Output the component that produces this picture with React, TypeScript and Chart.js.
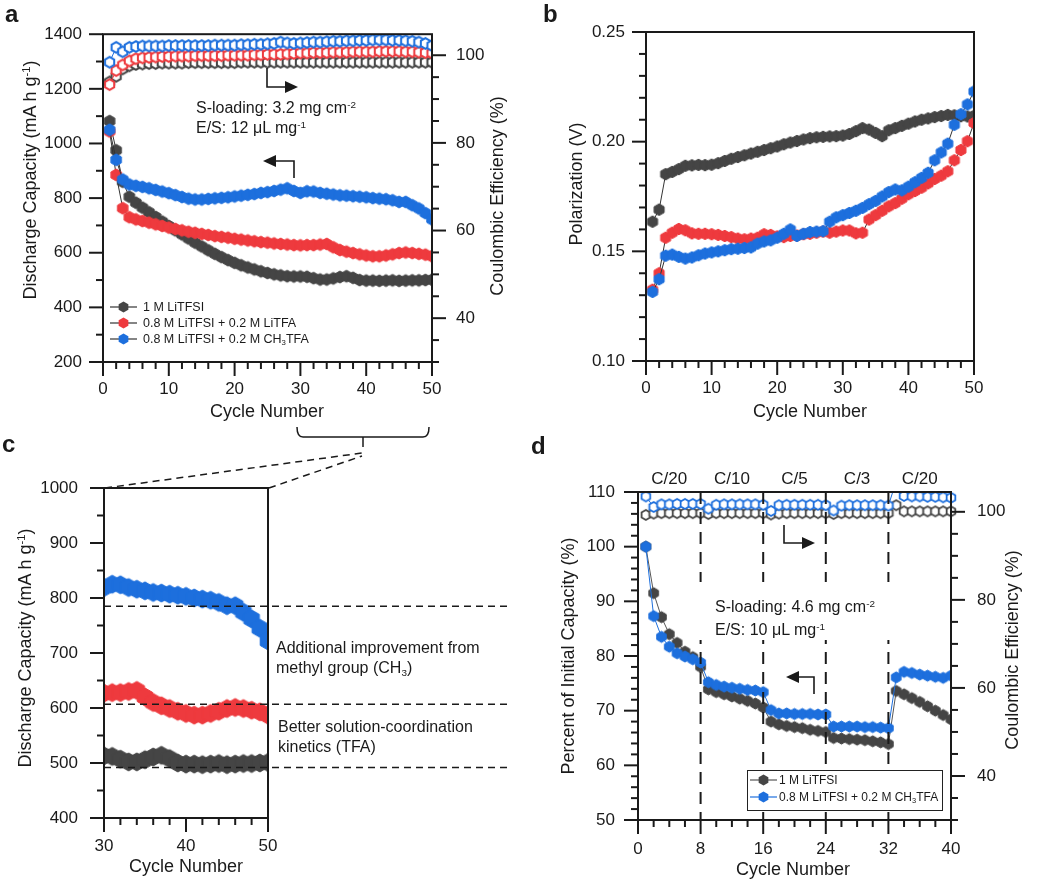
import React, { useEffect, useRef, useState } from 'react';
import { Chart, registerables } from 'chart.js';
Chart.register(...registerables);

const FONT = '"Liberation Sans", Arial, Helvetica, sans-serif';
const INK = '#1a1a1a';
const GRAY = '#454545';
const RED = '#EE3A3E';
const BLUE = '#1D6FDD';

// ---------- data ----------
const CYCLES_50 = [1, 2, 3, 4, 5, 6, 7, 8, 9, 10, 11, 12, 13, 14, 15, 16, 17, 18, 19, 20, 21, 22, 23, 24, 25, 26, 27, 28, 29, 30, 31, 32, 33, 34, 35, 36, 37, 38, 39, 40, 41, 42, 43, 44, 45, 46, 47, 48, 49, 50];
const CYCLES_40 = [1, 2, 3, 4, 5, 6, 7, 8, 9, 10, 11, 12, 13, 14, 15, 16, 17, 18, 19, 20, 21, 22, 23, 24, 25, 26, 27, 28, 29, 30, 31, 32, 33, 34, 35, 36, 37, 38, 39, 40];

// panel a / c : discharge capacity (mA h g-1)
const CAP_LITFSI = [1082, 975, 860, 805, 783, 765, 748, 731, 714, 698, 682, 667, 652, 637, 623, 609, 596, 584, 573, 563, 554, 546, 539, 532, 526, 521, 517, 514, 513, 513, 512, 507, 502, 502, 506, 511, 514, 508, 500, 498, 498, 497, 498, 499, 497, 498, 499, 499, 500, 501];
const CAP_LITFA = [1044, 885, 763, 730, 722, 716, 710, 704, 698, 692, 687, 682, 677, 673, 669, 665, 661, 658, 655, 651, 648, 645, 642, 639, 637, 634, 632, 630, 628, 627, 628, 628, 630, 632, 620, 610, 604, 599, 594, 590, 587, 587, 590, 594, 599, 601, 599, 596, 593, 587];
const CAP_CH3TFA = [1050, 940, 868, 850, 845, 841, 836, 830, 824, 818, 811, 804, 798, 795, 795, 797, 799, 801, 803, 806, 809, 812, 815, 819, 822, 826, 831, 836, 826, 819, 825, 824, 819, 816, 813, 810, 809, 807, 805, 803, 800, 798, 796, 792, 786, 786, 774, 762, 745, 722];
// panel a : coulombic efficiency (%)
const CE_LITFSI = [93.9, 95.2, 96.9, 97.6, 97.9, 98.0, 98.1, 98.1, 98.2, 98.2, 98.2, 98.2, 98.3, 98.3, 98.3, 98.3, 98.3, 98.3, 98.3, 98.3, 98.4, 98.4, 98.4, 98.4, 98.4, 98.4, 98.4, 98.4, 98.4, 98.4, 98.4, 98.4, 98.4, 98.4, 98.4, 98.4, 98.4, 98.4, 98.4, 98.4, 98.4, 98.4, 98.4, 98.4, 98.4, 98.4, 98.4, 98.4, 98.4, 98.4];
const CE_LITFA = [93.3, 96.5, 97.8, 98.7, 99.2, 99.4, 99.5, 99.6, 99.7, 99.7, 99.8, 99.8, 99.8, 99.9, 99.9, 99.9, 99.9, 99.9, 100.0, 100.0, 100.0, 100.0, 100.1, 100.1, 100.2, 100.2, 100.2, 100.3, 100.4, 100.5, 100.5, 100.6, 100.6, 100.6, 100.7, 100.7, 100.7, 100.8, 100.8, 100.8, 100.8, 100.9, 100.9, 100.9, 100.9, 100.8, 100.8, 100.7, 100.6, 100.5];
const CE_CH3TFA = [98.4, 101.8, 100.8, 101.8, 102.0, 102.1, 102.1, 102.1, 102.1, 102.2, 102.2, 102.2, 102.2, 102.2, 102.2, 102.2, 102.3, 102.3, 102.3, 102.3, 102.4, 102.4, 102.5, 102.5, 102.6, 102.7, 103.0, 102.8, 102.7, 102.8, 102.9, 103.0, 103.0, 103.1, 103.2, 103.2, 103.3, 103.3, 103.4, 103.4, 103.5, 103.5, 103.5, 103.4, 103.4, 103.3, 103.2, 103.0, 102.7, 102.2];

// panel b : polarization (V)
const POL_LITFSI = [0.1635, 0.1690, 0.1852, 0.1862, 0.1875, 0.1890, 0.1892, 0.1894, 0.1893, 0.1895, 0.1902, 0.1912, 0.1922, 0.1930, 0.1938, 0.1946, 0.1954, 0.1962, 0.1970, 0.1978, 0.1988, 0.1996, 0.2003, 0.2010, 0.2016, 0.2020, 0.2022, 0.2024, 0.2025, 0.2028, 0.2035, 0.2048, 0.2062, 0.2055, 0.2040, 0.2025, 0.2052, 0.2062, 0.2072, 0.2082, 0.2092, 0.2100, 0.2106, 0.2112, 0.2117, 0.2122, 0.2120, 0.2116, 0.2115, 0.2118];
const POL_LITFA = [0.1325, 0.1400, 0.1562, 0.1585, 0.1602, 0.1596, 0.1582, 0.1580, 0.1580, 0.1578, 0.1575, 0.1570, 0.1565, 0.1558, 0.1555, 0.1558, 0.1562, 0.1578, 0.1575, 0.1568, 0.1565, 0.1570, 0.1572, 0.1578, 0.1580, 0.1585, 0.1590, 0.1585, 0.1590, 0.1595, 0.1595, 0.1582, 0.1585, 0.1645, 0.1665, 0.1685, 0.1705, 0.1720, 0.1740, 0.1760, 0.1775, 0.1790, 0.1810, 0.1830, 0.1845, 0.1865, 0.1915, 0.1962, 0.2002, 0.2085];
const POL_CH3TFA = [0.1315, 0.1373, 0.1480, 0.1485, 0.1475, 0.1467, 0.1472, 0.1482, 0.1490, 0.1495, 0.1500, 0.1505, 0.1510, 0.1512, 0.1515, 0.1518, 0.1535, 0.1545, 0.1550, 0.1562, 0.1580, 0.1600, 0.1570, 0.1580, 0.1588, 0.1590, 0.1592, 0.1635, 0.1655, 0.1665, 0.1675, 0.1685, 0.1698, 0.1715, 0.1730, 0.1750, 0.1770, 0.1782, 0.1778, 0.1795, 0.1815, 0.1835, 0.1858, 0.1915, 0.1951, 0.1991, 0.2077, 0.2125, 0.2170, 0.2229];

// panel d : rate capability
const RATE_LABELS = ['C/20', 'C/10', 'C/5', 'C/3', 'C/20'];
const RATE_BOUNDS = [0, 8, 16, 24, 32, 40];
const PCT_LITFSI = [100, 91.5, 87.1, 84.0, 82.4, 80.8, 79.8, 78.0, 73.9, 73.4, 73.0, 72.6, 72.2, 71.8, 71.3, 70.6, 68.0, 67.5, 67.2, 67.0, 66.8, 66.5, 66.3, 66.1, 65.0, 64.9, 64.8, 64.7, 64.6, 64.4, 64.2, 63.9, 73.6, 73.0, 72.3, 71.6, 70.8, 70.0, 69.2, 68.4];
const PCT_CH3TFA = [100, 87.3, 83.5, 81.7, 80.5, 79.9, 79.4, 78.8, 75.2, 74.7, 74.4, 74.2, 74.0, 73.8, 73.7, 73.4, 70.1, 69.5, 69.5, 69.4, 69.4, 69.4, 69.3, 69.3, 67.1, 67.1, 67.1, 67.1, 67.0, 67.0, 66.9, 66.8, 76.1, 77.1, 76.9, 76.6, 76.4, 76.2, 76.0, 76.4];
const D_CE_LITFSI = [99.3, 99.6, 99.7, 99.7, 99.7, 99.7, 99.7, 99.7, 99.5, 99.7, 99.7, 99.7, 99.7, 99.7, 99.7, 99.7, 99.4, 99.6, 99.7, 99.7, 99.7, 99.7, 99.7, 99.7, 99.5, 99.7, 99.7, 99.7, 99.7, 99.7, 99.7, 99.7, 101.5, 100.1, 100.1, 100.1, 100.1, 100.1, 100.1, 100.1];
const D_CE_CH3TFA = [103.5, 101.1, 101.7, 101.7, 101.8, 101.8, 101.8, 101.8, 100.7, 101.6, 101.7, 101.7, 101.7, 101.7, 101.7, 101.6, 100.2, 101.5, 101.6, 101.6, 101.6, 101.6, 101.6, 101.5, 100.3, 101.4, 101.5, 101.5, 101.5, 101.5, 101.5, 101.4, 107.0, 103.6, 103.5, 103.5, 103.4, 103.4, 103.3, 103.2];

// panel c guide levels (mA h g-1)
const C_GUIDE_LEVELS = [785, 607, 492];

// tick labels
const A_X_TICKS = [0, 10, 20, 30, 40, 50];
const A_Y_TICKS = [200, 400, 600, 800, 1000, 1200, 1400];
const CE_TICKS = [40, 60, 80, 100];
const B_Y_TICKS = [0.10, 0.15, 0.20, 0.25];
const C_X_TICKS = [30, 40, 50];
const C_Y_TICKS = [400, 500, 600, 700, 800, 900, 1000];
const D_X_TICKS = [0, 8, 16, 24, 32, 40];
const D_Y_TICKS = [50, 60, 70, 80, 90, 100, 110];

// ---------- helpers ----------
const hexCache = new Map<string, HTMLCanvasElement>();
function hexMarker(r: number, fill: string, stroke: string, lw: number) {
  const key = [r, fill, stroke, lw].join('|');
  const hit = hexCache.get(key);
  if (hit) return hit;
  const size = Math.ceil(2 * r + 2 * lw + 2);
  const c = document.createElement('canvas');
  c.width = size;
  c.height = size;
  const g = c.getContext('2d') as CanvasRenderingContext2D;
  const m = size / 2;
  g.beginPath();
  for (let i = 0; i < 6; i++) {
    const a = ((-90 + 60 * i) * Math.PI) / 180;
    const px = m + r * Math.cos(a);
    const py = m + r * Math.sin(a);
    if (i === 0) g.moveTo(px, py);
    else g.lineTo(px, py);
  }
  g.closePath();
  g.fillStyle = fill;
  g.fill();
  g.lineWidth = lw;
  g.strokeStyle = stroke;
  g.stroke();
  hexCache.set(key, c);
  return c;
}

function series(xs: number[], ys: number[], axis: string, marker: HTMLCanvasElement, lineColor: string, clip?: any) {
  const ds: any = {
    data: xs.map((x, i) => ({ x, y: ys[i] })),
    yAxisID: axis,
    pointStyle: marker,
    pointRadius: marker.width / 2,
    pointHoverRadius: marker.width / 2,
    borderColor: lineColor,
    backgroundColor: lineColor,
    borderWidth: 1,
    showLine: true,
    tension: 0,
    fill: false,
  };
  if (clip !== undefined) ds.clip = clip;
  return ds;
}

function lin(pos: string, min: number, max: number, ticks: number[], size: number, pad: number, fmt?: (v: number) => string) {
  return {
    type: 'linear',
    position: pos,
    min,
    max,
    grid: { display: false, drawTicks: false },
    border: { display: false },
    afterBuildTicks: (s: any) => {
      s.ticks = ticks.map((v) => ({ value: v }));
    },
    afterFit: (s: any) => {
      if (pos === 'bottom') s.height = size;
      else s.width = size;
    },
    ticks: {
      padding: pad,
      color: INK,
      font: { family: FONT, size: 17 },
      autoSkip: false,
      maxRotation: 0,
      minRotation: 0,
      includeBounds: false,
      callback: (v: any) => (fmt ? fmt(Number(v)) : String(v)),
    },
  };
}

type Deco = {
  hlines?: number[];
  hlineEnd?: number;
  vlines?: number[];
  rates?: { labels: string[]; bounds: number[] };
};

function makeDeco(cfg: Deco) {
  return {
    id: 'deco',
    afterDatasetsDraw(chart: any) {
      const ctx = chart.ctx;
      const ca = chart.chartArea;
      ctx.save();
      ctx.strokeStyle = INK;
      (cfg.hlines || []).forEach((v) => {
        const y = chart.scales.y.getPixelForValue(v);
        ctx.setLineDash([7, 5]);
        ctx.lineWidth = 1.5;
        ctx.beginPath();
        ctx.moveTo(ca.left, y);
        ctx.lineTo(cfg.hlineEnd || ca.right, y);
        ctx.stroke();
      });
      (cfg.vlines || []).forEach((v) => {
        const x = chart.scales.x.getPixelForValue(v);
        ctx.setLineDash([12, 8]);
        ctx.lineWidth = 2;
        ctx.beginPath();
        ctx.moveTo(x, ca.top);
        ctx.lineTo(x, ca.bottom);
        ctx.stroke();
      });
      ctx.setLineDash([]);
      ctx.lineWidth = 2;
      ctx.strokeRect(ca.left, ca.top, ca.right - ca.left, ca.bottom - ca.top);
      if (cfg.rates) {
        const sx = chart.scales.x;
        const r = cfg.rates;
        ctx.fillStyle = INK;
        ctx.font = '17px ' + FONT;
        ctx.textAlign = 'center';
        ctx.textBaseline = 'middle';
        for (let i = 0; i < r.labels.length; i++) {
          const x = (sx.getPixelForValue(r.bounds[i]) + sx.getPixelForValue(r.bounds[i + 1])) / 2;
          ctx.fillText(r.labels[i], x, ca.top - 13);
        }
      }
      ctx.restore();
    },
  };
}

function baseOptions(padding: any, scales: any) {
  return {
    animation: false,
    responsive: false,
    events: [],
    layout: { padding },
    plugins: { legend: { display: false }, tooltip: { enabled: false } },
    scales,
  };
}

type TickSpec = { id: string; side: string; from: number; to: number; major: number; minor: number };

function makeA() {
  const bl = hexMarker(6, BLUE, BLUE, 1);
  const rd = hexMarker(6, RED, RED, 1);
  const gy = hexMarker(6, GRAY, GRAY, 1);
  const blo = hexMarker(5.3, '#fff', BLUE, 2);
  const rdo = hexMarker(5.3, '#fff', RED, 2);
  const gyo = hexMarker(5.3, '#fff', GRAY, 2);
  return {
    type: 'line',
    data: {
      datasets: [
        series(CYCLES_50, CAP_CH3TFA, 'y', bl, '#333'),
        series(CYCLES_50, CAP_LITFA, 'y', rd, '#333'),
        series(CYCLES_50, CAP_LITFSI, 'y', gy, '#333'),
        series(CYCLES_50, CE_CH3TFA, 'yce', blo, BLUE),
        series(CYCLES_50, CE_LITFA, 'yce', rdo, RED),
        series(CYCLES_50, CE_LITFSI, 'yce', gyo, GRAY),
      ],
    },
    options: baseOptions(
      { top: 32, left: 0, right: 0, bottom: 0 },
      {
        x: lin('bottom', 0, 50, A_X_TICKS, 38, 17),
        y: lin('left', 200, 1400, A_Y_TICKS, 103, 21),
        yce: lin('right', 30, 104.8, CE_TICKS, 88, 24),
      }
    ),
    plugins: [makeDeco({})],
  };
}
const TICKS_A: TickSpec[] = [
  { id: 'x', side: 'bottom', from: 0, to: 50, major: 10, minor: 2 },
  { id: 'y', side: 'left', from: 200, to: 1400, major: 200, minor: 100 },
  { id: 'yce', side: 'right', from: 30, to: 100, major: 20, minor: 5 },
];

function makeB() {
  const bl = hexMarker(5.8, BLUE, BLUE, 1);
  const rd = hexMarker(5.8, RED, RED, 1);
  const gy = hexMarker(5.8, GRAY, GRAY, 1);
  return {
    type: 'line',
    data: {
      datasets: [
        series(CYCLES_50, POL_CH3TFA, 'y', bl, '#333'),
        series(CYCLES_50, POL_LITFA, 'y', rd, '#333'),
        series(CYCLES_50, POL_LITFSI, 'y', gy, '#333'),
      ],
    },
    options: baseOptions(
      { top: 32, left: 0, right: 76, bottom: 0 },
      {
        x: lin('bottom', 0, 50, A_X_TICKS, 39, 17),
        y: lin('left', 0.1, 0.25, B_Y_TICKS, 126, 21, (v) => v.toFixed(2)),
      }
    ),
    plugins: [makeDeco({})],
  };
}
const TICKS_B: TickSpec[] = [
  { id: 'x', side: 'bottom', from: 0, to: 50, major: 10, minor: 2 },
  { id: 'y', side: 'left', from: 0.1, to: 0.25, major: 0.05, minor: 0.01 },
];

function makeC() {
  const bl = hexMarker(9, BLUE, BLUE, 1);
  const rd = hexMarker(9, RED, RED, 1);
  const gy = hexMarker(9, GRAY, GRAY, 1);
  return {
    type: 'line',
    data: {
      datasets: [
        series(CYCLES_50, CAP_CH3TFA, 'y', bl, BLUE, 0),
        series(CYCLES_50, CAP_LITFA, 'y', rd, RED, 0),
        series(CYCLES_50, CAP_LITFSI, 'y', gy, GRAY, 0),
      ],
    },
    options: baseOptions(
      { top: 68, left: 0, right: 252, bottom: 0 },
      {
        x: lin('bottom', 30, 50, C_X_TICKS, 63, 18),
        y: lin('left', 400, 1000, C_Y_TICKS, 104, 26),
      }
    ),
    plugins: [makeDeco({ hlines: C_GUIDE_LEVELS, hlineEnd: 512 })],
  };
}
const TICKS_C: TickSpec[] = [
  { id: 'x', side: 'bottom', from: 30, to: 50, major: 10, minor: 2 },
  { id: 'y', side: 'left', from: 400, to: 1000, major: 100, minor: 50 },
];

function makeD() {
  const bl = hexMarker(5.5, BLUE, BLUE, 1);
  const gy = hexMarker(5.5, GRAY, GRAY, 1);
  const blo = hexMarker(5, '#fff', BLUE, 1.8);
  const gyo = hexMarker(5, '#fff', GRAY, 1.8);
  const ceClip = { left: 8, right: 8, top: 0, bottom: 8 };
  return {
    type: 'line',
    data: {
      datasets: [
        series(CYCLES_40, PCT_CH3TFA, 'y', bl, BLUE),
        series(CYCLES_40, PCT_LITFSI, 'y', gy, '#555'),
        series(CYCLES_40, D_CE_CH3TFA, 'yce', blo, BLUE, ceClip),
        series(CYCLES_40, D_CE_LITFSI, 'yce', gyo, '#555', ceClip),
      ],
    },
    options: baseOptions(
      { top: 52, left: 0, right: 0, bottom: 0 },
      {
        x: lin('bottom', 0, 40, D_X_TICKS, 61, 19),
        y: lin('left', 50, 110, D_Y_TICKS, 118, 23),
        yce: lin('right', 30, 104.5, CE_TICKS, 99, 26),
      }
    ),
    plugins: [makeDeco({ vlines: RATE_BOUNDS.slice(1, -1), rates: { labels: RATE_LABELS, bounds: RATE_BOUNDS } })],
  };
}
const TICKS_D: TickSpec[] = [
  { id: 'x', side: 'bottom', from: 0, to: 40, major: 8, minor: 2 },
  { id: 'y', side: 'left', from: 50, to: 110, major: 10, minor: 2 },
  { id: 'yce', side: 'right', from: 30, to: 100, major: 20, minor: 5 },
];

// canvas + an SVG layer holding the axis tick marks, placed from the chart's own scales
function ChartCanvas({ x, y, w, h, make, ticks }: any) {
  const ref = useRef<HTMLCanvasElement | null>(null);
  const [marks, setMarks] = useState<number[][]>([]);
  useEffect(() => {
    const chart: any = new Chart(ref.current as HTMLCanvasElement, make());
    const ca = chart.chartArea;
    const out: number[][] = [];
    (ticks as TickSpec[]).forEach((a) => {
      const s = chart.scales[a.id];
      const n = Math.round((a.to - a.from) / a.minor);
      for (let k = 0; k <= n; k++) {
        const v = a.from + k * a.minor;
        const ratio = v / a.major;
        const len = Math.abs(ratio - Math.round(ratio)) < 1e-6 ? 14 : 7;
        const p = s.getPixelForValue(v);
        if (a.side === 'bottom') out.push([p, ca.bottom, p, ca.bottom + len]);
        else if (a.side === 'left') out.push([ca.left, p, ca.left - len, p]);
        else out.push([ca.right, p, ca.right + len, p]);
      }
    });
    setMarks(out);
    return () => chart.destroy();
  }, []);
  return (
    <>
      <canvas ref={ref} width={w} height={h} style={{ position: 'absolute', left: x, top: y, width: w, height: h }} />
      <svg style={{ position: 'absolute', left: x, top: y, overflow: 'visible' }} width={w} height={h}>
        {marks.map((m, i) => (
          <line key={i} x1={m[0]} y1={m[1]} x2={m[2]} y2={m[3]} stroke={INK} strokeWidth={2} />
        ))}
      </svg>
    </>
  );
}

const Sup = ({ children }: any) => (
  <span style={{ fontSize: '0.62em', position: 'relative', top: '-0.55em' }}>{children}</span>
);
const Sub = ({ children }: any) => (
  <span style={{ fontSize: '0.62em', position: 'relative', top: '0.3em' }}>{children}</span>
);

function Txt({ x, y, size = 16, weight, children }: any) {
  return (
    <div
      style={{
        position: 'absolute',
        left: x,
        top: y - size / 2,
        fontSize: size,
        lineHeight: `${size}px`,
        whiteSpace: 'nowrap',
        fontWeight: weight || 'normal',
      }}
    >
      {children}
    </div>
  );
}

function VTxt({ cx, cy, size = 18, children }: any) {
  return (
    <div
      style={{
        position: 'absolute',
        left: cx,
        top: cy,
        transform: 'translate(-50%, -50%) rotate(-90deg)',
        fontSize: size,
        lineHeight: `${size}px`,
        whiteSpace: 'nowrap',
      }}
    >
      {children}
    </div>
  );
}

function CTxt({ cx, cy, size = 18, children }: any) {
  return (
    <div
      style={{
        position: 'absolute',
        left: cx,
        top: cy,
        transform: 'translate(-50%, -50%)',
        fontSize: size,
        lineHeight: `${size}px`,
        whiteSpace: 'nowrap',
      }}
    >
      {children}
    </div>
  );
}

function hexPts(cx: number, cy: number, r: number) {
  const out: string[] = [];
  for (let i = 0; i < 6; i++) {
    const a = ((-90 + 60 * i) * Math.PI) / 180;
    out.push(`${(cx + r * Math.cos(a)).toFixed(2)},${(cy + r * Math.sin(a)).toFixed(2)}`);
  }
  return out.join(' ');
}

function LegendRow({ x, y, color, lineColor, textX, size = 12.5, children }: any) {
  return (
    <>
      <svg style={{ position: 'absolute', left: x, top: y - 7 }} width={30} height={14}>
        <line x1={2} x2={29} y1={7} y2={7} stroke={lineColor} strokeWidth={1.2} />
        <polygon points={hexPts(15.5, 7, 5.6)} fill={color} />
      </svg>
      <Txt x={textX} y={y} size={size}>
        {children}
      </Txt>
    </>
  );
}

function Arrow({ pts, tip, dir }: any) {
  const [tx, ty] = tip;
  const b = dir === 'right' ? tx - 13 : tx + 13;
  return (
    <g>
      <polyline points={pts} fill="none" stroke={INK} strokeWidth={1.6} />
      <polygon points={`${b},${ty - 6} ${tx},${ty} ${b},${ty + 6}`} fill={INK} />
    </g>
  );
}

export default function App() {
  return (
    <div
      style={{
        position: 'absolute',
        left: 0,
        top: 0,
        width: 1050,
        height: 881,
        overflow: 'hidden',
        background: '#fff',
        fontFamily: FONT,
        color: INK,
      }}
    >
      <ChartCanvas x={0} y={0} w={520} h={400} make={makeA} ticks={TICKS_A} />
      <ChartCanvas x={520} y={0} w={530} h={400} make={makeB} ticks={TICKS_B} />
      <ChartCanvas x={0} y={420} w={520} h={461} make={makeC} ticks={TICKS_C} />
      <ChartCanvas x={520} y={440} w={530} h={441} make={makeD} ticks={TICKS_D} />

      <svg style={{ position: 'absolute', left: 0, top: 0 }} width={1050} height={881}>
        <path d="M297,427 Q297,437 303,437 L423,437 Q429,437 429,427" fill="none" stroke={INK} strokeWidth={1.5} />
        <line x1={363} y1={437} x2={363} y2={447} stroke={INK} strokeWidth={1.5} />
        <line x1={105} y1={488} x2={362} y2={453} stroke={INK} strokeWidth={1.5} strokeDasharray="7,5" />
        <line x1={269} y1={488} x2={362} y2={456} stroke={INK} strokeWidth={1.5} strokeDasharray="7,5" />
        <Arrow pts="267,68 267,87 286,87" tip={[298, 87]} dir="right" />
        <Arrow pts="294,178 294,161 275,161" tip={[263, 161]} dir="left" />
        <Arrow pts="784,525 784,543 803,543" tip={[815, 543]} dir="right" />
        <Arrow pts="814,694 814,677 799,677" tip={[786, 677]} dir="left" />
      </svg>

      <Txt x={5} y={14} size={24} weight="bold">a</Txt>
      <Txt x={543} y={14} size={24} weight="bold">b</Txt>
      <Txt x={2} y={444} size={24} weight="bold">c</Txt>
      <Txt x={531} y={446} size={24} weight="bold">d</Txt>

      <VTxt cx={31} cy={180}>
        Discharge Capacity (mA h g<Sup>-1</Sup>)
      </VTxt>
      <VTxt cx={497} cy={196}>Coulombic Efficiency (%)</VTxt>
      <CTxt cx={267} cy={411}>Cycle Number</CTxt>
      <Txt x={196} y={108} size={16}>
        S-loading: 3.2 mg cm<Sup>-2</Sup>
      </Txt>
      <Txt x={196} y={128} size={16}>
        E/S: 12 μL mg<Sup>-1</Sup>
      </Txt>
      <LegendRow x={108} y={307} color={GRAY} lineColor="#333" textX={143}>1 M LiTFSI</LegendRow>
      <LegendRow x={108} y={323} color={RED} lineColor="#333" textX={143}>0.8 M LiTFSI + 0.2 M LiTFA</LegendRow>
      <LegendRow x={108} y={339} color={BLUE} lineColor="#333" textX={143}>
        0.8 M LiTFSI + 0.2 M CH<Sub>3</Sub>TFA
      </LegendRow>

      <VTxt cx={576} cy={184}>Polarization (V)</VTxt>
      <CTxt cx={810} cy={411}>Cycle Number</CTxt>

      <VTxt cx={26} cy={648}>
        Discharge Capacity (mA h g<Sup>-1</Sup>)
      </VTxt>
      <CTxt cx={186} cy={866}>Cycle Number</CTxt>
      <Txt x={276} y={648} size={16}>Additional improvement from</Txt>
      <Txt x={276} y={668} size={16}>
        methyl group (CH<Sub>3</Sub>)
      </Txt>
      <Txt x={278} y={727} size={16}>Better solution-coordination</Txt>
      <Txt x={278} y={747} size={16}>kinetics (TFA)</Txt>

      <VTxt cx={568} cy={656}>Percent of Initial Capacity (%)</VTxt>
      <VTxt cx={1012} cy={650}>Coulombic Efficiency (%)</VTxt>
      <CTxt cx={793} cy={869}>Cycle Number</CTxt>
      <div style={{ position: 'absolute', left: 697, top: 582, width: 194, height: 58, background: '#fff' }} />
      <Txt x={715} y={607} size={16}>
        S-loading: 4.6 mg cm<Sup>-2</Sup>
      </Txt>
      <Txt x={715} y={630} size={16}>
        E/S: 10 μL mg<Sup>-1</Sup>
      </Txt>
      <div
        style={{
          position: 'absolute',
          left: 747,
          top: 770,
          width: 196,
          height: 41,
          border: '1px solid #222',
          background: '#fff',
          boxSizing: 'border-box',
        }}
      />
      <LegendRow x={748} y={780} color={GRAY} lineColor="#555" textX={779} size={12}>1 M LiTFSI</LegendRow>
      <LegendRow x={748} y={797} color={BLUE} lineColor={BLUE} textX={779} size={12}>
        0.8 M LiTFSI + 0.2 M CH<Sub>3</Sub>TFA
      </LegendRow>
    </div>
  );
}
